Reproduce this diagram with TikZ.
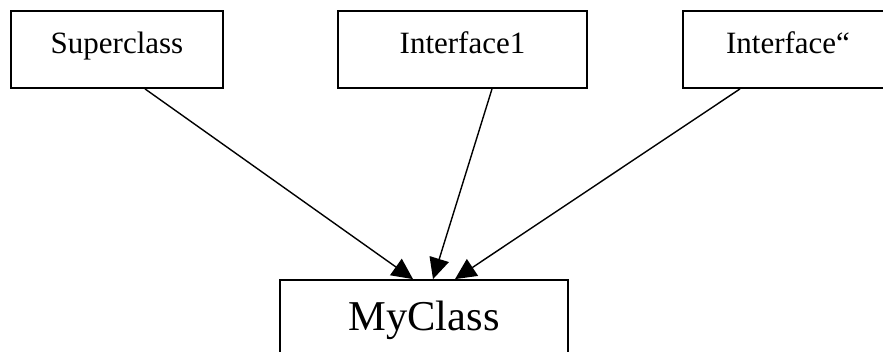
\documentclass[tikz,border=0pt]{standalone}
\usepackage{fontspec}
\setmainfont{Liberation Serif}
\usetikzlibrary{arrows.meta}

\begin{document}
\begin{tikzpicture}[x=1pt, y=-1pt,
    classbox/.style={draw, rectangle, line width=1.8pt, minimum height=77pt, inner sep=0pt,
        font=\fontsize{31}{36}\selectfont, text height=20pt, text depth=13pt},
    mainbox/.style={draw, rectangle, line width=1.8pt, minimum width=288pt, minimum height=80pt, inner sep=0pt,
        font=\fontsize{42.5}{48}\selectfont, text height=30pt, text depth=10pt},
    inherit/.style={line width=1.4pt, -{Triangle[length=21pt, width=20pt]}}]
        \clip (0, 0) rectangle (883, 351);

        \node[classbox, minimum width=212pt] (super) at (117, 49.5) {Superclass};
        \node[classbox, minimum width=249pt] (iface1) at (462.5, 49.5) {Interface1};
        \node[classbox, minimum width=210pt] (iface2) at (788, 49.5) {Interface\textquotedblleft};

        \node[mainbox] (my) at (424, 320) {MyClass};

        \begin{scope}[inherit]
            \draw ([xshift=28pt]super.south) -- ([xshift=-11pt]my.north);
            \draw ([xshift=29.5pt]iface1.south) -- ([xshift=9pt]my.north);
            \draw ([xshift=-48pt]iface2.south) -- ([xshift=31pt]my.north);
        \end{scope}

    \end{tikzpicture}
\end{document}
